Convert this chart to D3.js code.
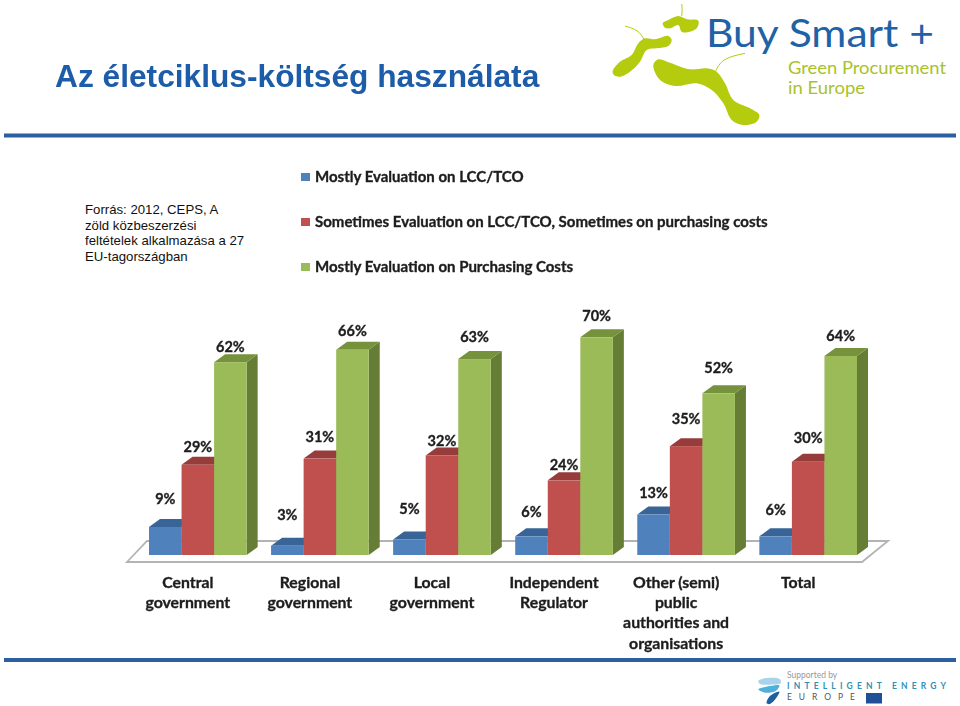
<!DOCTYPE html>
<html><head><meta charset="utf-8">
<script src="https://cdn.jsdelivr.net/npm/d3@7"></script>
<style>html,body{margin:0;background:#fff}svg{display:block}</style>
</head><body><svg id="c" width="960" height="706"></svg>
<script>
// ---- data ----
const categories = [["Central","government"],["Regional","government"],["Local","government"],["Independent","Regulator"],["Other (semi)","public","authorities and","organisations"],["Total"]];
const seriesNames = ["Mostly Evaluation on LCC/TCO","Sometimes Evaluation on LCC/TCO, Sometimes on purchasing costs","Mostly Evaluation on Purchasing Costs"];
const lccValues = [9,3,5,6,13,6];
const mixedValues = [29,31,32,24,35,30];
const purchasingValues = [62,66,63,70,52,64];
const sourceLines = ["Forrás: 2012, CEPS, A","zöld közbeszerzési","feltételek alkalmazása a 27","EU-tagországban"];
// ---- layout / style (separate from data) ----
const allSeries = [lccValues,mixedValues,purchasingValues];
const labelLift = [[23,26,25,19,17,21],[13,17,9,10,22,19],[10,14,17,16,20,15]];
const faces = [{f:"#4f81bd",t:"#386497"},{f:"#c0504d",t:"#963d3b"},{f:"#9bbb59",t:"#76923c",s:"#667d36"}];
const dep = {x:11,y:8};
const blue="#2b5f9f", lime="#b5cb0d";
const svg = d3.select("#c");
const soft = svg.append("defs").append("filter").attr("id","soft");
soft.append("feGaussianBlur").attr("stdDeviation",0.35);

const x0 = d3.scaleBand().domain(d3.range(6)).range([149,857]).paddingInner(0.2);
const x1 = d3.scaleBand().domain(d3.range(3)).range([0,x0.bandwidth()]);
const y = d3.scaleLinear().domain([0,70]).range([555,337.3]);
const heavy = s => s.attr("font-family","Lato").attr("font-weight",700).attr("fill","#1e1e1e").attr("stroke","#1e1e1e").attr("stroke-width",0.35).attr("filter","url(#soft)");

// header
svg.append("text").attr("x",55).attr("y",87).attr("font-family","Liberation Sans").attr("font-weight",700)
  .attr("font-size",31.7).attr("fill","#1f5ca8").attr("filter","url(#soft)").text("Az életciklus-költség használata");
svg.selectAll(".rule").data([133.5,658]).join("rect").attr("x",4).attr("width",952).attr("y",d=>d).attr("height",4).attr("fill",blue);

// logo
const blob = d3.line().curve(d3.curveCatmullRomClosed.alpha(.5)).x(d=>600+d[0]/3).y(d=>d[1]/3);
const stem = d3.line().curve(d3.curveBasis).x(d=>600+d[0]/3).y(d=>d[1]/3);
const logo = svg.append("g");
[[[188,70],[205,60],[235,48],[262,58],[295,62],[290,85],[262,97],[245,95],[235,75],[210,85],[195,83]],
 [[38,213],[60,185],[95,165],[115,130],[135,115],[165,118],[205,108],[215,120],[205,138],[170,145],[140,150],[120,185],[90,215],[60,230],[42,225]],
 [[160,195],[175,178],[210,188],[270,208],[320,205],[350,215],[375,250],[400,300],[450,325],[478,345],[470,365],[430,375],[395,360],[370,310],[335,270],[290,250],[225,258],[180,240]]]
 .forEach(p=>logo.append("path").attr("d",blob(p)).attr("fill",lime));
[[[245,12],[247,30],[245,48]],[[75,78],[115,90],[132,118]],[[345,218],[365,175],[435,160]]]
 .forEach(p=>logo.append("path").attr("d",stem(p)).attr("fill","none").attr("stroke",lime).attr("stroke-width",1));
logo.append("text").attr("x",706).attr("y",47).attr("font-family","Lato").attr("font-weight",400).attr("font-size",39).attr("fill","#1f62a5")
  .attr("textLength",228).attr("lengthAdjust","spacingAndGlyphs").text("Buy Smart +");
logo.append("text").attr("x",788).attr("y",73.5).attr("font-family","Lato").attr("font-size",16.5).attr("fill","#a9c22b")
  .attr("textLength",158).attr("lengthAdjust","spacingAndGlyphs").text("Green Procurement");
logo.append("text").attr("x",788).attr("y",94).attr("font-family","Lato").attr("font-size",16.5).attr("fill","#a9c22b")
  .attr("textLength",77).attr("lengthAdjust","spacingAndGlyphs").text("in Europe");

// source note
svg.append("g").selectAll("text").data(sourceLines).join("text").attr("x",85).attr("y",(d,i)=>214+i*15.7)
  .attr("font-family","Liberation Sans").attr("font-size",13.2).attr("fill","#111").text(d=>d);

// legend
const lg = svg.append("g").selectAll("g").data(seriesNames).join("g").attr("transform",(d,i)=>`translate(301,${177+i*45})`);
lg.append("rect").attr("y",-4).attr("width",9).attr("height",8).attr("fill",(d,i)=>faces[i].f);
lg.append("text").attr("x",14).attr("y",5).attr("font-size",15).call(heavy).text(d=>d);

// floor
const bx=[127,147,888,862], by=[562,541];
svg.append("path").attr("d",`M${bx[0]},${by[0]}L${bx[1]},${by[1]}L${bx[2]},${by[1]}L${bx[3]},${by[0]}Z`)
  .attr("fill","#fff").attr("stroke","#b3b3b3").attr("stroke-width",1.8);

// bars
const groups = svg.append("g").selectAll("g").data(categories).join("g").attr("transform",(d,i)=>`translate(${x0(i)},0)`);
groups.each(function(_,gi){
  const g=d3.select(this);
  allSeries.forEach((vals,si)=>{
    const v=vals[gi], l=x1(si), w=x1.bandwidth(), t=y(v), b=y(0);
    g.append("path").attr("d",`M${l+w},${b}L${l+w+dep.x},${b-dep.y}L${l+w+dep.x},${t-dep.y}L${l+w},${t}Z`).attr("fill",faces[si].s||faces[si].t);
    g.append("path").attr("d",`M${l},${t}L${l+dep.x},${t-dep.y}L${l+w+dep.x},${t-dep.y}L${l+w},${t}Z`).attr("fill",faces[si].t);
    g.append("rect").attr("x",l).attr("y",t).attr("width",w).attr("height",b-t).attr("fill",faces[si].f);
  });
  allSeries.forEach((vals,si)=>{
    g.append("text").attr("x",x1(si)+x1.bandwidth()/2).attr("y",y(vals[gi])-labelLift[si][gi]).attr("text-anchor","middle")
      .attr("font-size",14.5).call(heavy).text(vals[gi]+"%");
  });
});

// category axis
const axis = svg.append("g").attr("transform","translate(-10,588)").call(d3.axisBottom(x0).tickSize(0).tickFormat(""));
axis.select(".domain").remove();
axis.selectAll(".tick text").attr("y",0).attr("dy",0).attr("font-size",15.8).call(heavy)
  .each(function(i){ d3.select(this).selectAll("tspan").data(categories[i]).join("tspan").attr("x",0).attr("y",(d,k)=>k*20.2).text(d=>d); });

// footer logo
const ft = svg.append("g");
ft.append("text").attr("x",787).attr("y",678).attr("font-family","Lato").attr("font-size",8.5).attr("fill","#999").text("Supported by");
ft.append("text").attr("x",787).attr("y",688.5).attr("font-family","Lato").attr("font-weight",700).attr("font-size",8.5).attr("fill","#2f8fb5")
  .attr("textLength",159).text("INTELLIGENT ENERGY");
ft.append("text").attr("x",787).attr("y",700).attr("font-family","Lato").attr("font-size",8.5).attr("fill","#555")
  .attr("textLength",68).text("EUROPE");
ft.append("rect").attr("x",866).attr("y",693).attr("width",16).attr("height",10.5).attr("fill","#1f4f97");
const sw = d3.line().curve(d3.curveCatmullRomClosed).x(d=>740+d[0]/3).y(d=>650+d[1]/3);
[[[55,92],[80,84],[120,88],[122,100],[90,104],[60,102]],[[55,118],[90,108],[118,106],[108,122],[75,128]],[[80,160],[88,140],[118,125],[108,145],[90,162]]]
 .forEach((p,i)=>ft.append("path").attr("d",sw(p)).attr("fill",["#a9d3ea","#4fb0dc","#1f5f9f"][i]));
</script></body></html>
